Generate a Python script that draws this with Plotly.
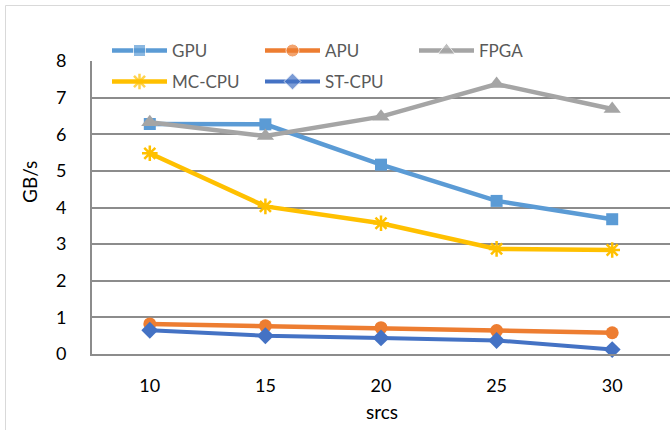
import plotly.graph_objects as go

# Throughput (GB/s) per number of sources
srcs = ["10", "15", "20", "25", "30"]
gpu = [6.28, 6.27, 5.17, 4.18, 3.68]
apu = [0.82, 0.77, 0.72, 0.64, 0.58]
fpga = [6.33, 5.95, 6.48, 7.37, 6.69]
mc_cpu = [5.48, 4.03, 3.57, 2.87, 2.84]
st_cpu = [0.65, 0.50, 0.44, 0.37, 0.12]

series = [
    ("GPU", gpu, "#5B9BD5", "square", 12, 4.5),
    ("APU", apu, "#ED7D31", "circle", 13, 4.5),
    ("FPGA", fpga, "#A5A5A5", "triangle-up", 15, 4.5),
    ("MC-CPU", mc_cpu, "#FFC000", "asterisk-open", 13, 4.5),
    ("ST-CPU", st_cpu, "#4472C4", "diamond", 13, 4),
]

FONT = "Lato"
W, H = 670, 430
# plot-area box in pixels
PL, PR, PT, PB = 92, 670, 61, 354

fig = go.Figure()

for name, vals, color, sym, size, lw in series:
    marker = dict(symbol=sym, size=size, color=color)
    if sym.endswith("-open"):
        marker["line"] = dict(color=color, width=2.5)
    fig.add_trace(go.Scatter(
        x=srcs, y=vals, name=name, mode="lines+markers",
        line=dict(color=color, width=lw), marker=marker,
        showlegend=False, cliponaxis=False,
    ))

# Hand-built legend on a full-page axis pair measured in pixels
legend_pos = [(112, 50.5), (265, 50.5), (419, 50.5), (112, 81.5), (265, 81.5)]
seg = 55
for (name, vals, color, sym, size, lw), (x0, y0) in zip(series, legend_pos):
    marker = dict(symbol=sym, size=[0, size, 0], color=color)
    if sym.endswith("-open"):
        marker["line"] = dict(color=color, width=2.5)
    fig.add_trace(go.Scatter(
        x=[x0, x0 + seg / 2, x0 + seg], y=[y0, y0, y0],
        mode="lines+markers", line=dict(color=color, width=lw),
        marker=marker, xaxis="x2", yaxis="y2",
        showlegend=False, cliponaxis=False, hoverinfo="skip",
    ))
    fig.add_annotation(
        x=x0 + seg + 3, y=y0, xref="x2", yref="y2", text=name,
        showarrow=False, xanchor="left", yanchor="middle",
        font=dict(family=FONT, size=17, color="#595959"),
    )

# axis titles
fig.add_annotation(text="GB/s", x=29, y=182, xref="x2", yref="y2",
                   showarrow=False, textangle=-90,
                   xanchor="center", yanchor="middle",
                   font=dict(family=FONT, size=19, color="#000000"))
fig.add_annotation(text="srcs", x=382, y=411, xref="x2", yref="y2",
                   showarrow=False, xanchor="center", yanchor="middle",
                   font=dict(family=FONT, size=19, color="#000000"))

fig.update_layout(
    width=W, height=H,
    margin=dict(l=0, r=0, t=0, b=0, pad=0, autoexpand=False),
    paper_bgcolor="white", plot_bgcolor="rgba(0,0,0,0)",
    showlegend=False,
    font=dict(family=FONT, size=18, color="#000000"),
    xaxis=dict(
        type="category", range=[-0.5, 4.5],
        domain=[PL / W, PR / W], anchor="y", automargin=False,
        showgrid=False, zeroline=False,
        showline=True, linecolor="#8c8c8c", linewidth=2,
        ticks="", ticklabelstandoff=14,
        tickfont=dict(family=FONT, size=18, color="#000000"),
    ),
    yaxis=dict(
        range=[0, 8], dtick=1,
        domain=[(H - PB) / H, (H - PT) / H], anchor="x", automargin=False,
        showgrid=True, gridcolor="#8c8c8c", gridwidth=1.5,
        zeroline=False,
        showline=True, linecolor="#8c8c8c", linewidth=2,
        ticks="", ticklabelstandoff=20,
        tickfont=dict(family=FONT, size=18, color="#000000"),
    ),
    xaxis2=dict(range=[0, W], domain=[0, 1], anchor="y2", automargin=False,
                visible=False, fixedrange=True),
    yaxis2=dict(range=[H, 0], domain=[0, 1], anchor="x2", automargin=False,
                visible=False, fixedrange=True),
    shapes=[
        dict(type="rect", xref="x2", yref="y2",
             x0=5.5, x1=W + 10, y0=5.5, y1=H + 10,
             line=dict(color="#d9d9d9", width=1), layer="below"),
    ],
)

fig.write_html("out.html")
